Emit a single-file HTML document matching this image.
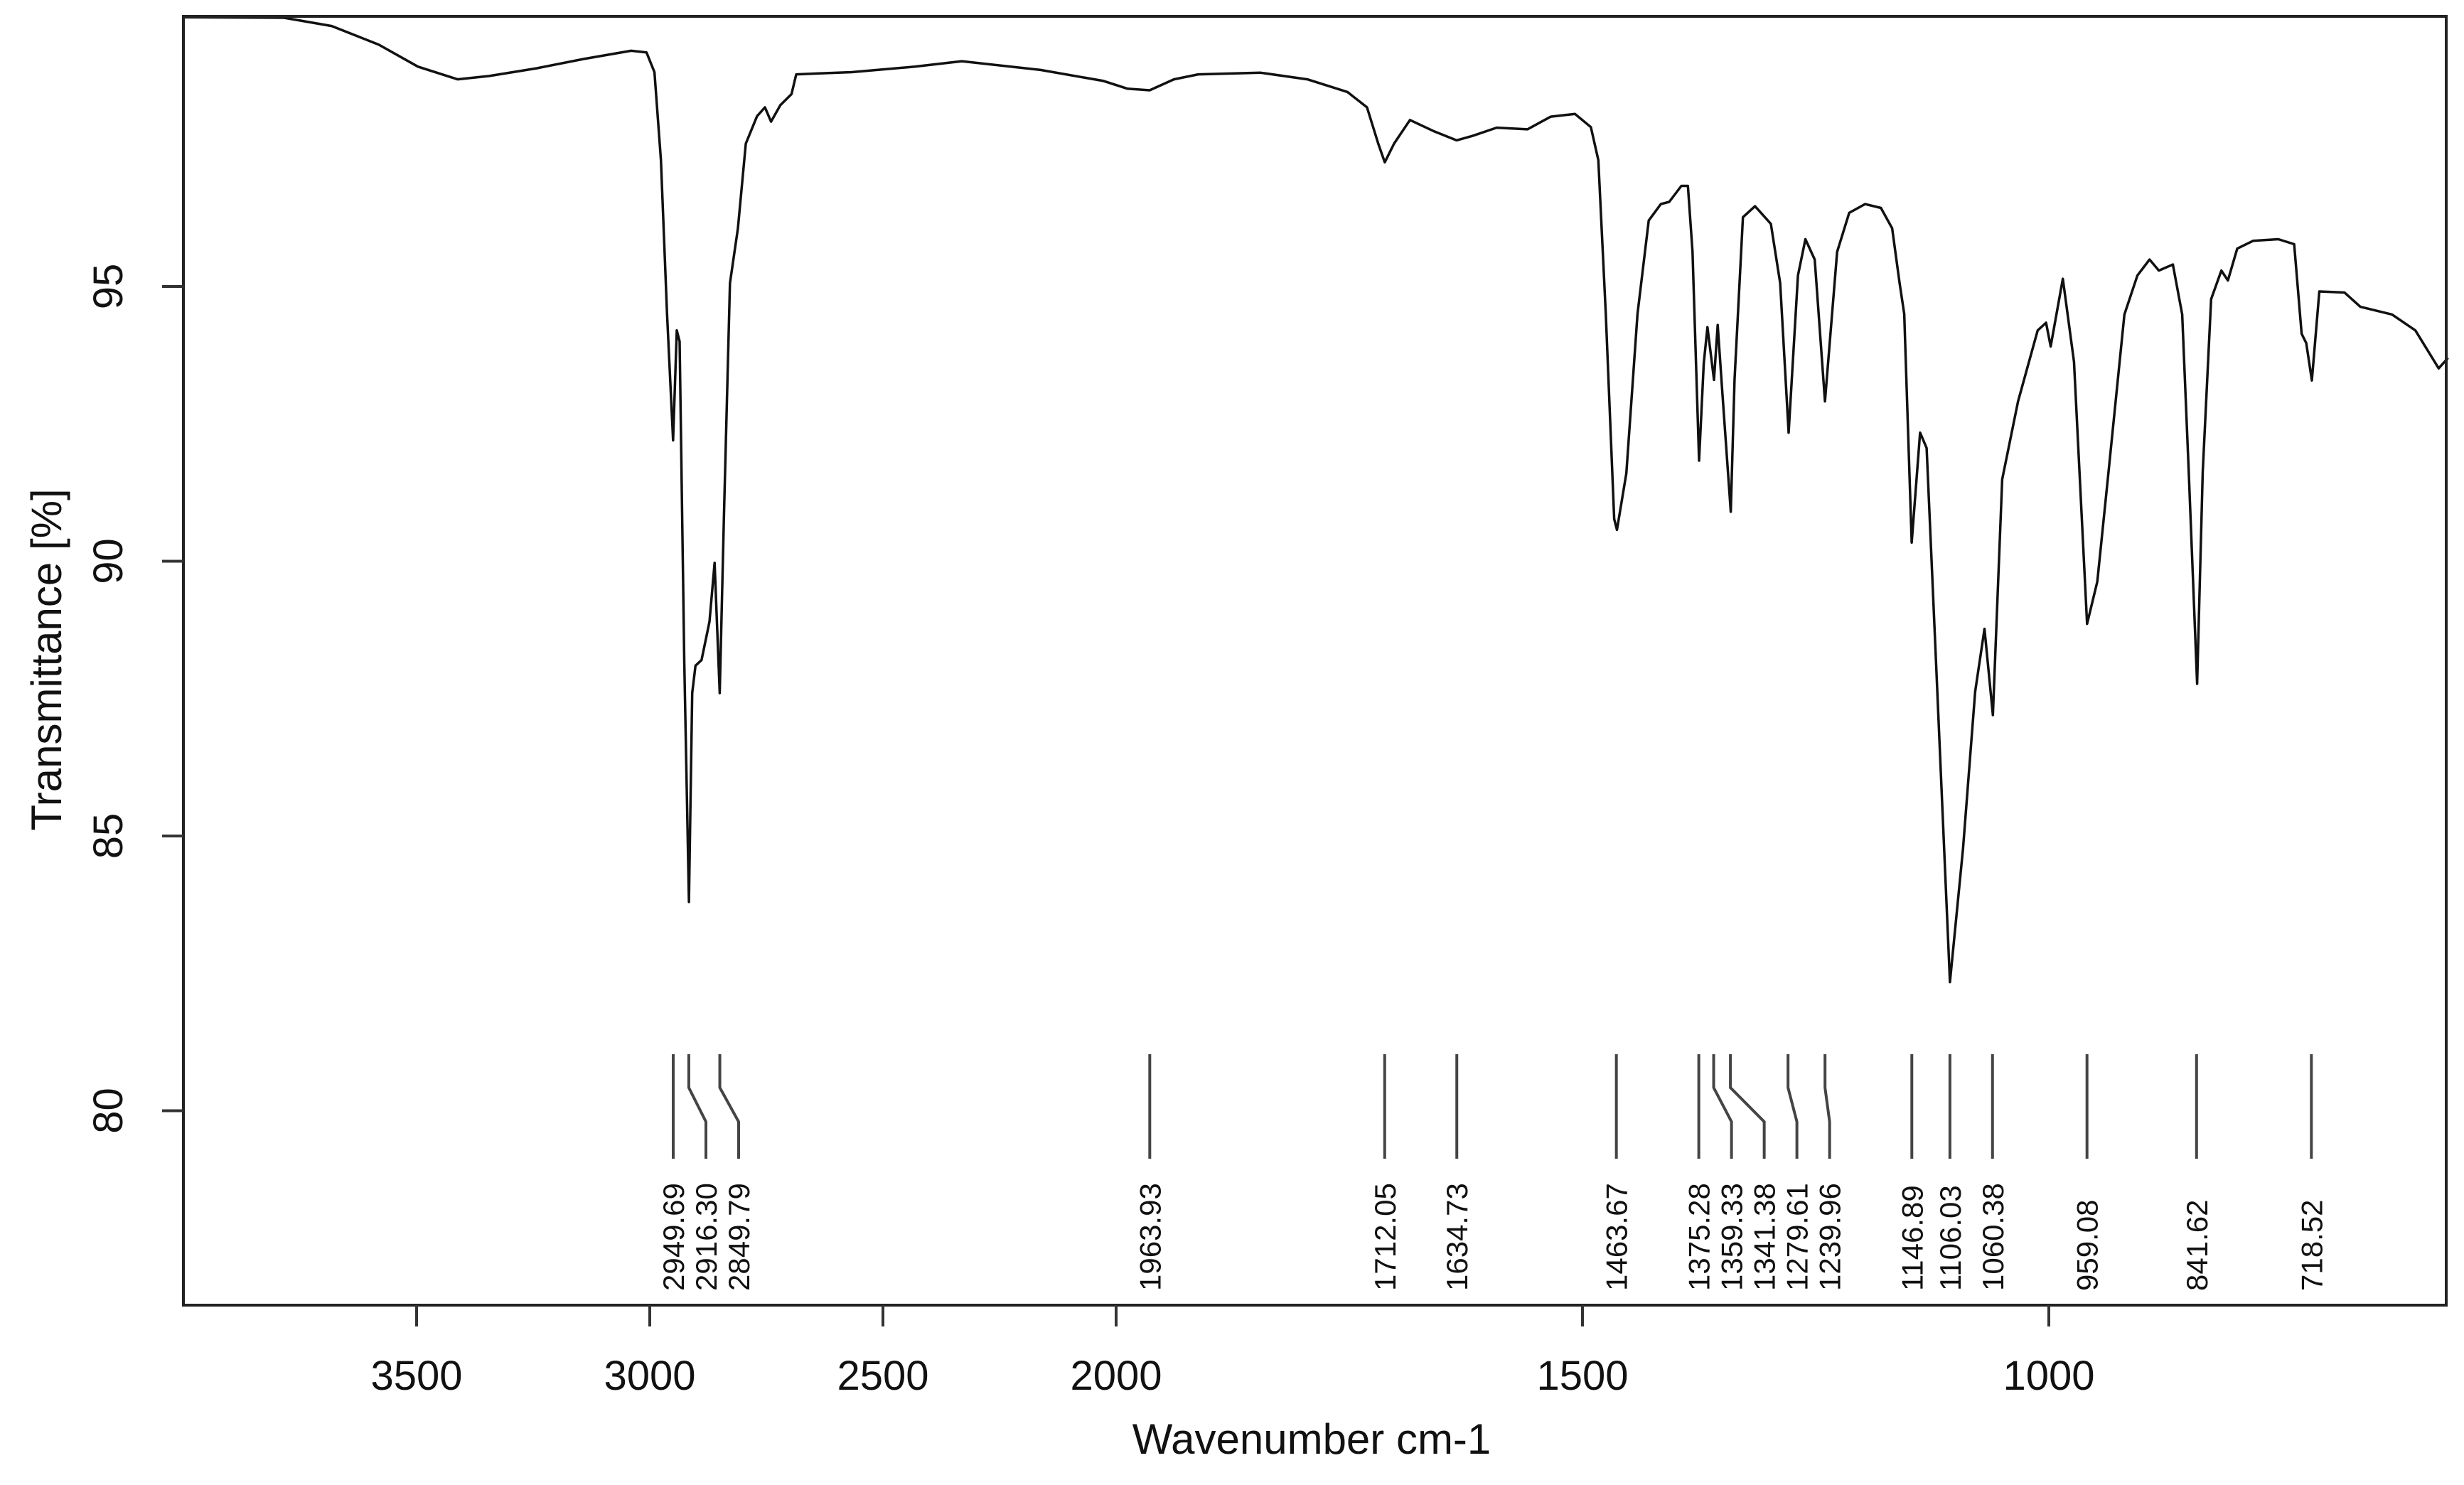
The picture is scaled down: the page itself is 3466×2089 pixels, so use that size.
<!DOCTYPE html>
<html><head><meta charset="utf-8"><style>
html,body{margin:0;padding:0;background:#fff;}
svg{display:block;font-family:"Liberation Sans",Arial,sans-serif;}
</style></head>
<body>
<svg id="chart" width="3466" height="2089" viewBox="0 0 3466 2089" xmlns="http://www.w3.org/2000/svg">
<rect x="0" y="0" width="3466" height="2089" fill="#fff"/>
<g id="plot"></g>
</svg>
<script>
const wavenumbers=[4000,3784,3682,3581,3497,3412,3344,3243,3142,3040,3007,2990,2976,2963,2950,2942,2936,2926,2916,2909,2902,2889,2872,2861,2850,2841,2828,2811,2794,2770,2753,2740,2720,2696,2686,2567,2432,2331,2162,2027,1988,1964,1938,1912,1845,1795,1752,1731,1719,1712,1702,1685,1660,1635,1618,1592,1559,1534,1508,1491,1483,1475,1466,1463,1453,1441,1429,1416,1407,1394,1387,1382,1375,1370,1366,1359,1355,1350,1341,1337,1328,1315,1298,1288,1279,1269,1261,1251,1240,1227,1214,1197,1180,1168,1160,1155,1147,1138,1131,1121,1106,1092,1079,1069,1060,1050,1033,1012,1003,998,985,973,959,948,936,919,905,892,882,867,857,850,841,835,826,815,808,798,781,754,737,729,724,718,710,683,666,632,607,582,572];
const transmittance=[99.9,99.89,99.74,99.4,99.0,98.77,98.83,98.97,99.14,99.29,99.26,98.9,97.3,94.5,92.2,94.2,94.0,88.2,83.8,87.6,88.1,88.2,88.9,89.97,87.6,90.8,95.06,96.06,97.6,98.1,98.26,98.0,98.3,98.5,98.86,98.9,99.0,99.1,98.94,98.74,98.6,98.57,98.77,98.86,98.89,98.77,98.54,98.26,97.6,97.26,97.6,98.03,97.83,97.66,97.74,97.89,97.86,98.09,98.14,97.9,97.3,94.5,90.77,90.57,91.6,94.5,96.2,96.5,96.54,96.83,96.83,95.63,91.83,93.6,94.26,93.3,94.3,93.06,90.9,93.3,96.26,96.46,96.14,95.06,92.34,95.2,95.86,95.49,92.91,95.63,96.34,96.5,96.43,96.06,95.06,94.5,90.34,92.34,92.06,88.2,82.34,84.77,87.63,88.77,87.2,91.49,92.91,94.2,94.34,93.91,95.14,93.63,88.86,89.63,91.63,94.49,95.2,95.49,95.29,95.4,94.49,91.63,87.77,91.63,94.77,95.29,95.11,95.69,95.83,95.86,95.77,94.14,93.97,93.29,94.91,94.89,94.63,94.49,94.2,93.51,93.7];
const peakLabels=[2949.69,2916.30,2849.79,1963.93,1712.05,1634.73,1463.67,1375.28,1359.33,1341.38,1279.61,1239.96,1146.89,1106.03,1060.38,959.08,841.62,718.52];
const xTicks=[3500,3000,2500,2000,1500,1000];
const yTicks=[80,85,90,95];

const NS="http://www.w3.org/2000/svg";
const L=258,R=3441,T=23,B=1836;
function xs(w){return w>=2000?L+(4000-w)*0.656:L+1312+(2000-w)*1.312;}
function ys(v){return 403+(95-v)*77.3;}
const g=document.getElementById('plot');
function el(tag,attrs,parent){const e=document.createElementNS(NS,tag);for(const k in attrs)e.setAttribute(k,attrs[k]);(parent||g).appendChild(e);return e;}

// spectrum
let d='';
wavenumbers.forEach((w,i)=>{d+=(i?'L':'M')+xs(w).toFixed(1)+','+ys(transmittance[i]).toFixed(1);});
const line=el('path',{d:d,fill:'none',stroke:'#111','stroke-width':3.5,'stroke-linejoin':'round'});



// peak annotations
let prev=-1e9;
peakLabels.forEach(p=>{
  const px=xs(p);
  const lx=Math.max(px,prev+46);
  prev=lx;
  const pd='M'+px+',1483 L'+px+',1530 L'+lx+',1578 L'+lx+',1630';
  const m=el('path',{d:pd,fill:'none',stroke:'#444','stroke-width':4});
  
  
  const t=el('text',{x:0,y:0,'font-size':42,fill:'#111',transform:'translate('+(lx+15)+',1816) rotate(-90)'});
  t.textContent=p.toFixed(2);
  
  
});

// frame
const fr=el('rect',{x:L,y:T,width:R-L,height:B-T,fill:'none',stroke:'#222','stroke-width':4});



xTicks.forEach(v=>{
  const x=xs(v);
  const tk=el('line',{x1:x,y1:B,x2:x,y2:B+30,stroke:'#333','stroke-width':4});
  
  
  const t=el('text',{x:x,y:1955,'font-size':58,'text-anchor':'middle',fill:'#111'});
  t.textContent=v;
  
  
});
yTicks.forEach(v=>{
  const y=ys(v);
  const tk=el('line',{x1:L-30,y1:y,x2:L,y2:y,stroke:'#333','stroke-width':4});
  
  
  const t=el('text',{x:0,y:0,'font-size':58,'text-anchor':'middle',fill:'#111',transform:'translate(172,'+y+') rotate(-90)'});
  t.textContent=v;
  
  
});
const xt=el('text',{x:1845,y:2045,'font-size':60,'text-anchor':'middle',fill:'#111'});
xt.textContent='Wavenumber cm-1';


const yt=el('text',{x:0,y:0,'font-size':60,'text-anchor':'middle',fill:'#111',transform:'translate(86,928) rotate(-90)'});
yt.textContent='Transmittance [%]';


</script>
</body></html>
